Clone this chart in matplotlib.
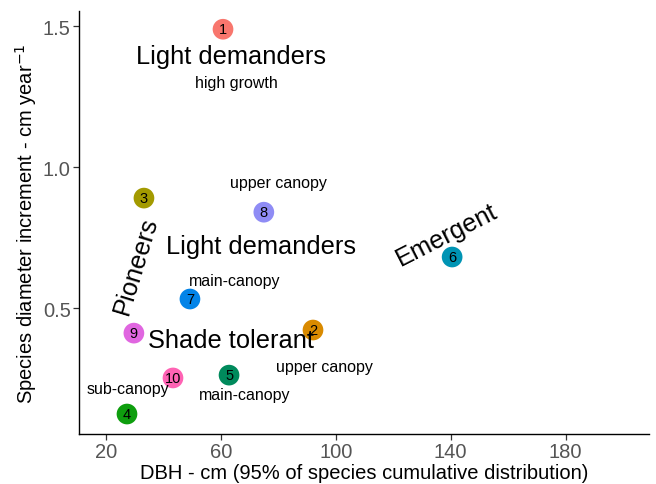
import matplotlib
matplotlib.use("Agg")
import matplotlib.pyplot as plt

plt.rcParams['font.family'] = ['Liberation Sans', 'DejaVu Sans']

species = ['1', '2', '3', '4', '5', '6', '7', '8', '9', '10']
dbh = [60.8, 92.1, 33.3, 27.4, 62.9, 140.5, 49.3, 75.0, 29.8, 43.4]
growth = [1.489, 0.422, 0.890, 0.124, 0.262, 0.681, 0.532, 0.840, 0.411, 0.252]
colors = ['#F8766D', '#D98A00', '#A39A00', '#0E9E0E', '#008A5C',
          '#0094B4', '#0384E8', '#8F8CF5', '#E066E0', '#FF63B4']

# annotation labels: (text, x, y, rotation)
big_labels = [('Light demanders', 63.6, 1.395, 0),
              ('Light demanders', 74.0, 0.720, 0),
              ('Shade tolerant', 63.6, 0.387, 0),
              ('Pioneers', 30.6, 0.655, 73),
              ('Emergent', 138.7, 0.762, 27)]
small_labels = [('high growth', 65.3, 1.299),
                ('upper canopy', 80.0, 0.944),
                ('main-canopy', 65.0, 0.596),
                ('upper canopy', 96.0, 0.294),
                ('sub-canopy', 27.8, 0.216),
                ('main-canopy', 68.2, 0.195)]

xticks = [20, 60, 100, 140, 180]
yticks = [0.5, 1.0, 1.5]

fig = plt.figure(figsize=(6.56, 4.85), dpi=100)
ax = fig.add_axes([0.1204, 0.103, 0.869, 0.873])

ax.scatter(dbh, growth, s=222, c=colors, zorder=2, linewidths=0)
for s, x, y in zip(species, dbh, growth):
    ax.text(x, y, s, ha='center', va='center', fontsize=10.5, color='black', zorder=3)

for t, x, y, r in big_labels:
    ax.text(x, y, t, ha='center', va='center', fontsize=18.3, rotation=r,
            rotation_mode='anchor', color='black', zorder=4)
for t, x, y in small_labels:
    ax.text(x, y, t, ha='center', va='center', fontsize=11.5, color='black', zorder=4)

ax.set_xlim(10.7, 209)
ax.set_ylim(0.053, 1.555)
ax.set_xticks(xticks)
ax.set_xticklabels([str(v) for v in xticks])
ax.set_yticks(yticks)
ax.set_yticklabels(['%.1f' % v for v in yticks])
ax.tick_params(axis='both', labelsize=14.5, labelcolor='#555555', color='#333333',
               length=4, width=0.9, pad=2)
for side in ['top', 'right']:
    ax.spines[side].set_visible(False)
for side in ['left', 'bottom']:
    ax.spines[side].set_linewidth(1.0)
    ax.spines[side].set_color('black')

ax.set_xlabel('DBH - cm (95% of species cumulative distribution)', fontsize=14.5, labelpad=1)
ax.set_ylabel('Species diameter increment - cm year$^{-1}$', fontsize=14.5, labelpad=3)

fig.savefig('out.png', dpi=100)
